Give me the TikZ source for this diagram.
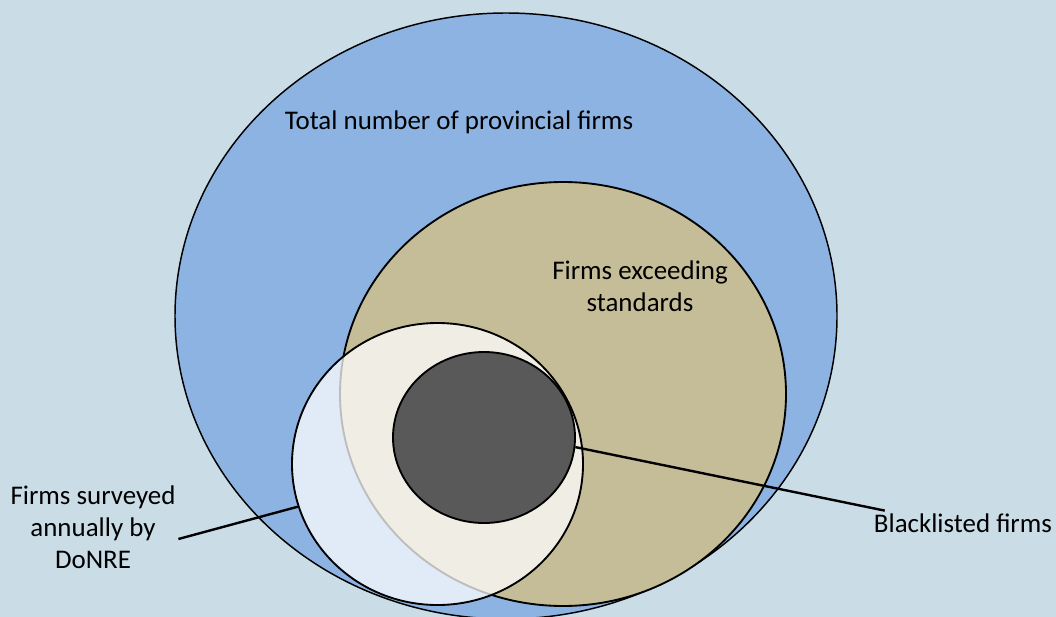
\documentclass[tikz,border=0pt]{standalone}
\usepackage{fontspec}
\setmainfont{Carlito}
\usetikzlibrary{shapes.geometric}

\definecolor{bgblue}{HTML}{CADCE6}
\definecolor{setblue}{HTML}{8DB3E2}
\definecolor{settan}{HTML}{C4BD97}
\definecolor{setdark}{HTML}{595959}

\begin{document}
\begin{tikzpicture}[
  x=0.75pt, y=-0.75pt,
  set/.style={ellipse, draw, line width=1.4pt, inner sep=0pt},
  lbl/.style={font=\fontsize{20.2}{24}\selectfont, align=center, inner sep=2pt},
  leader/.style={line width=1.8pt}
]
\useasboundingbox (0,0) rectangle (1056,617);
\fill[bgblue] (0,0) rectangle (1056,617);

% nested sets
\node[set, line width=1.1pt, fill=setblue, minimum width=496.5pt, minimum height=454.5pt] (all) at (506,316) {};
\node[set, fill=settan, minimum width=334.5pt, minimum height=318pt] (exceed) at (563,394) {};
\node[set, fill=white, fill opacity=0.74, minimum width=218.25pt, minimum height=211.5pt] (survey) at (437.5,464) {};
\node[set, fill=setdark, minimum width=136.5pt, minimum height=128.25pt] (black) at (484,437.5) {};

% labels
\node[lbl] (alltxt) at (459,122) {Total number of provincial firms};
\node[lbl] (exceedtxt) at (640,286) {Firms exceeding\\standards};
\node[lbl] (donre) at (93,527) {Firms surveyed\\annually by\\DoNRE};
\node[lbl, anchor=west] (blk) at (871,523) {Blacklisted firms};

% leader lines
\draw[leader] (survey.197) -- (donre.-8);
\draw[leader] (black.-6) -- (blk.171);

\end{tikzpicture}
\end{document}
